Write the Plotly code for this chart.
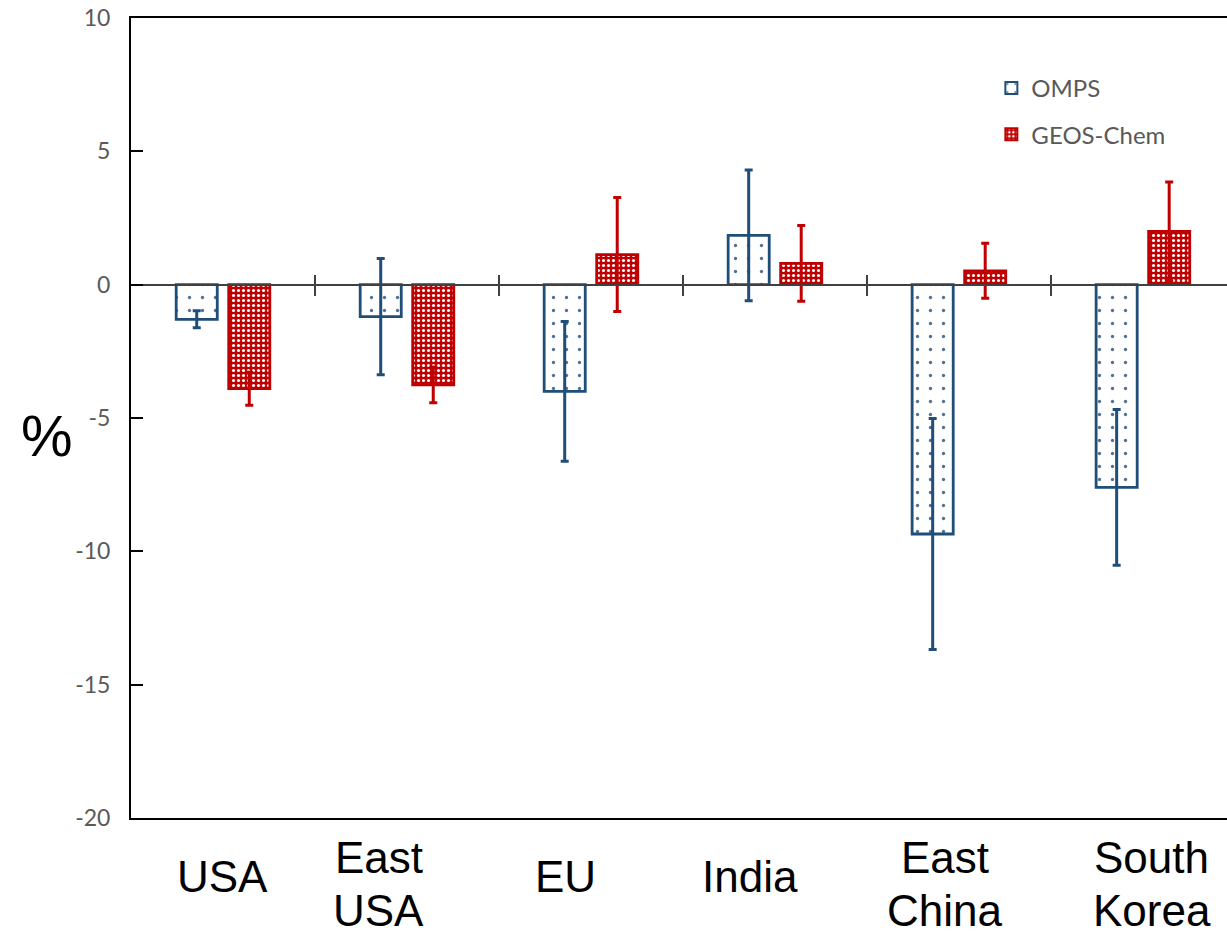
import plotly.graph_objects as go

# Regional changes (%) with uncertainty
categories = ["USA", "East USA", "EU", "India", "East China", "South Korea"]
omps_values = [-1.3, -1.2, -4.0, 1.85, -9.35, -7.6]
omps_errors = [0.32, 2.18, 2.62, 2.45, 4.33, 2.92]
geos_values = [-3.9, -3.76, 1.13, 0.8, 0.52, 2.0]
geos_errors = [0.62, 0.67, 2.14, 1.42, 1.03, 1.85]
y_ticks = [-20, -15, -10, -5, 0, 5, 10]
y_tick_text = ["-20", "-15", "-10", "-5", "0", "5", "10"]

# Horizontal nudges (px) for the category captions
label_shift = [0, -28, -25, -25, -14, 9]

BLUE = "#1F4E79"
RED = "#C00000"
GREY = "#595959"
TICK_FONT = "Lato, 'Open Sans', sans-serif"
LABEL_FONT = "'Liberation Sans', Arial, sans-serif"

x_range = [-0.5, 5.457]
y_range = [-20, 10]

fig = go.Figure()

fig.add_trace(go.Bar(
    name="OMPS", x=categories, y=omps_values,
    marker=dict(
        color="white",
        line=dict(color=BLUE, width=2.8),
        pattern=dict(shape=".", fgcolor="#4F6F94", bgcolor="white",
                     size=13, solidity=0.05, fillmode="replace"),
    ),
    error_y=dict(type="data", array=omps_errors, color=BLUE,
                 thickness=3, width=4),
    legendgroup="a",
))
fig.add_trace(go.Bar(
    name="GEOS-Chem", x=categories, y=geos_values,
    marker=dict(
        color=RED,
        line=dict(color=RED, width=2.8),
        pattern=dict(shape=".", fgcolor="white", bgcolor=RED,
                     size=5, solidity=0.3, fillmode="replace"),
    ),
    error_y=dict(type="data", array=geos_errors, color=RED,
                 thickness=3, width=4),
    legendgroup="b",
))

# Category boundaries on the zero line (ticks crossing the line)
boundaries = [i + 0.5 for i in range(len(categories) - 1)]
for ax in ("x2", "x3"):
    fig.add_trace(go.Scatter(x=[0], y=[0], xaxis=ax, yaxis="y",
                             mode="markers", marker=dict(opacity=0),
                             showlegend=False, hoverinfo="skip"))

zero_pos = (0 - y_range[0]) / (y_range[1] - y_range[0])

fig.update_layout(
    width=1227, height=935,
    margin=dict(l=131, r=0, t=18, b=117),
    paper_bgcolor="white", plot_bgcolor="white",
    barmode="group", bargap=0.429, bargroupgap=0.218,
    showlegend=True,
    legend=dict(x=0.785, y=0.94, xanchor="left", yanchor="top",
                font=dict(family=TICK_FONT, size=24, color=GREY),
                bgcolor="rgba(0,0,0,0)", tracegroupgap=12,
                itemsizing="constant"),
    xaxis=dict(range=x_range, showticklabels=False, ticks="",
               showline=True, linecolor="black", linewidth=2,
               mirror=True, showgrid=False, zeroline=False),
    xaxis2=dict(type="linear", overlaying="x", anchor="free",
                position=zero_pos, range=x_range,
                tickvals=boundaries, ticks="outside", ticklen=10,
                tickwidth=2, tickcolor="#404040",
                showticklabels=False, showline=True,
                linecolor="#404040", linewidth=2,
                showgrid=False, zeroline=False),
    xaxis3=dict(type="linear", overlaying="x", anchor="free",
                position=zero_pos, range=x_range,
                tickvals=boundaries, ticks="inside", ticklen=10,
                tickwidth=2, tickcolor="#404040",
                showticklabels=False, showline=False,
                showgrid=False, zeroline=False),
    yaxis=dict(range=y_range, tickvals=y_ticks, ticktext=y_tick_text,
               ticks="inside", ticklen=12, tickwidth=1.5,
               tickcolor="black", showline=True, linecolor="black",
               linewidth=2, showgrid=False, zeroline=False,
               tickfont=dict(family=TICK_FONT, size=23, color=GREY),
               ticklabelstandoff=14),
)

# Category captions below the plot, one annotation per text line
line_pitch = 53 / 800
for cat, dx in zip(categories, label_shift):
    lines = cat.split(" ")
    n = len(lines)
    block_center = -58 / 800 if n == 1 else -65.5 / 800
    for k, line in enumerate(lines):
        y_center = block_center - (k - (n - 1) / 2) * line_pitch
        fig.add_annotation(
            x=cat, xref="x", y=y_center, yref="paper", xshift=dx,
            text=line, showarrow=False, xanchor="center", yanchor="middle",
            font=dict(family=LABEL_FONT, size=44, color="black"),
        )

# Y axis title
fig.add_annotation(
    x=-84 / 1096, xref="paper", y=(818 - 435) / 800, yref="paper",
    text="%", showarrow=False, xanchor="center", yanchor="middle",
    font=dict(family=LABEL_FONT, size=58, color="black"),
)

fig.write_html("out.html")
